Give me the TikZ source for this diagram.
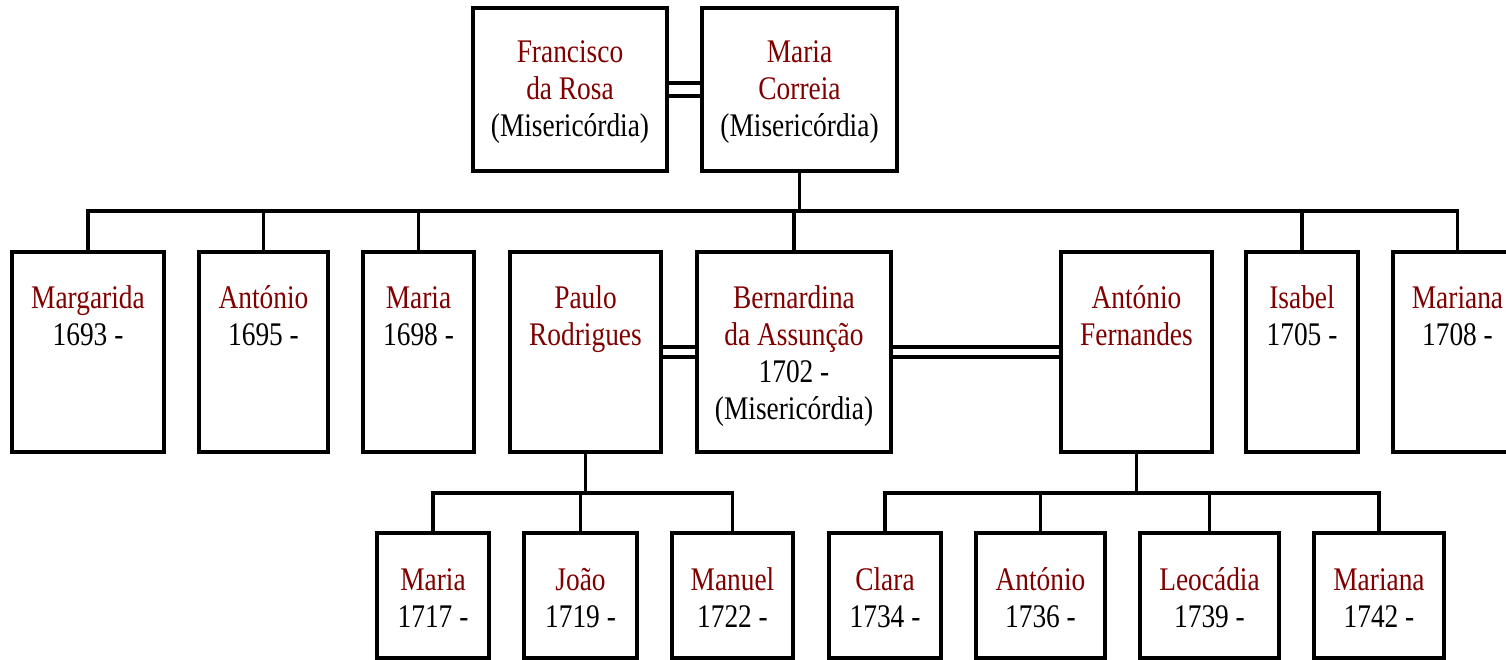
\documentclass[tikz,border=0pt]{standalone}
\usepackage{fontspec}
\setmainfont{Liberation Serif}[FakeStretch=0.83]
\usetikzlibrary{calc}
\definecolor{namered}{RGB}{128,0,0}
\newcommand{\nm}[1]{\textcolor{namered}{#1}}
\newcommand{\pstack}[1]{\begin{tabular}[t]{@{}c@{}}#1\end{tabular}}
\begin{document}
\begin{tikzpicture}[x=1pt,y=-1pt,
  person/.style={draw, line width=3.4pt, inner sep=0pt, outer sep=0pt, anchor=north west},
  toprow/.style={person, minimum height=163pt},
  midrow/.style={person, minimum height=200pt},
  lowrow/.style={person, minimum height=125pt},
  label text/.style={anchor=base, inner sep=0pt, font=\fontsize{33}{37}\selectfont},
  link/.style={line width=3.2pt},
]
\useasboundingbox (0,0) rectangle (1506,660);
\clip (0,0) rectangle (1506,660);

% first generation
\node[toprow, minimum width=194pt] (fr) at (473,8) {};
\node[toprow, minimum width=195pt] (mc) at (702,8) {};
\node[label text] at ($(fr.north)+(0,55)$) {\pstack{\nm{Francisco}\\\nm{da Rosa}\\(Misericórdia)}};
\node[label text] at ($(mc.north)+(0,55)$) {\pstack{\nm{Maria}\\\nm{Correia}\\(Misericórdia)}};

% second generation
\node[midrow, minimum width=152pt] (marg) at (12,252) {};
\node[midrow, minimum width=129pt] (anto) at (199,252) {};
\node[midrow, minimum width=111pt] (mari) at (363,252) {};
\node[midrow, minimum width=151pt] (paulo) at (510,252) {};
\node[midrow, minimum width=194pt] (bern) at (697,252) {};
\node[midrow, minimum width=151pt] (af) at (1061,252) {};
\node[midrow, minimum width=112pt] (isab) at (1246,252) {};
\node[midrow, minimum width=129pt] (mana) at (1393,252) {};

\node[label text] at ($(marg.north)+(0,56)$) {\pstack{\nm{Margarida}\\1693 -}};
\node[label text] at ($(anto.north)+(0,56)$) {\pstack{\nm{António}\\1695 -}};
\node[label text] at ($(mari.north)+(0,56)$) {\pstack{\nm{Maria}\\1698 -}};
\node[label text] at ($(paulo.north)+(0,56)$) {\pstack{\nm{Paulo}\\\nm{Rodrigues}}};
\node[label text] at ($(bern.north)+(0,56)$) {\pstack{\nm{Bernardina}\\\nm{da Assunção}\\1702 -\\(Misericórdia)}};
\node[label text] at ($(af.north)+(0,56)$) {\pstack{\nm{António}\\\nm{Fernandes}}};
\node[label text] at ($(isab.north)+(0,56)$) {\pstack{\nm{Isabel}\\1705 -}};
\node[label text] at ($(mana.north)+(0,56)$) {\pstack{\nm{Mariana}\\1708 -}};

% third generation
\node[lowrow, minimum width=112pt] (pk1) at (377,533) {};
\node[lowrow, minimum width=113pt] (pk2) at (524,533) {};
\node[lowrow, minimum width=121pt] (pk3) at (672,533) {};
\node[lowrow, minimum width=112pt] (ak1) at (829,533) {};
\node[lowrow, minimum width=129pt] (ak2) at (976,533) {};
\node[lowrow, minimum width=139pt] (ak3) at (1140,533) {};
\node[lowrow, minimum width=130pt] (ak4) at (1314,533) {};

\node[label text] at ($(pk1.north)+(0,57)$) {\pstack{\nm{Maria}\\1717 -}};
\node[label text] at ($(pk2.north)+(0,57)$) {\pstack{\nm{João}\\1719 -}};
\node[label text] at ($(pk3.north)+(0,57)$) {\pstack{\nm{Manuel}\\1722 -}};
\node[label text] at ($(ak1.north)+(0,57)$) {\pstack{\nm{Clara}\\1734 -}};
\node[label text] at ($(ak2.north)+(0,57)$) {\pstack{\nm{António}\\1736 -}};
\node[label text] at ($(ak3.north)+(0,57)$) {\pstack{\nm{Leocádia}\\1739 -}};
\node[label text] at ($(ak4.north)+(0,57)$) {\pstack{\nm{Mariana}\\1742 -}};

% marriages (double lines)
\draw[link] ($(fr.north east)+(0,75)$) -- ($(mc.north west)+(0,75)$);
\draw[link] ($(fr.north east)+(0,88)$) -- ($(mc.north west)+(0,88)$);
\draw[link] ($(paulo.north east)+(0,95)$) -- ($(bern.north west)+(0,95)$);
\draw[link] ($(paulo.north east)+(0,105)$) -- ($(bern.north west)+(0,105)$);
\draw[link] ($(bern.north east)+(0,95)$) -- ($(af.north west)+(0,95)$);
\draw[link] ($(bern.north east)+(0,105)$) -- ($(af.north west)+(0,105)$);

% descent lines, second generation
\coordinate (bar) at ($(mc.south)+(0,40)$);
\draw[link] (mc.south) -- (bar);
\draw[link] (marg.north) -- (marg.north |- bar) -- (mana.north |- bar) -- (mana.north);
\foreach \c in {anto,mari,bern,isab}
  \draw[link] (\c.north |- bar) -- (\c.north);

% descent lines, third generation
\coordinate (pbar) at ($(paulo.south)+(0,41)$);
\draw[link] (paulo.south) -- (pbar);
\draw[link] (pk1.north) -- (pk1.north |- pbar) -- (pk3.north |- pbar) -- (pk3.north);
\draw[link] (pk2.north |- pbar) -- (pk2.north);

\coordinate (abar) at ($(af.south)+(0,41)$);
\draw[link] (af.south) -- (abar);
\draw[link] (ak1.north) -- (ak1.north |- abar) -- (ak4.north |- abar) -- (ak4.north);
\foreach \c in {ak2,ak3}
  \draw[link] (\c.north |- abar) -- (\c.north);
\end{tikzpicture}
\end{document}
